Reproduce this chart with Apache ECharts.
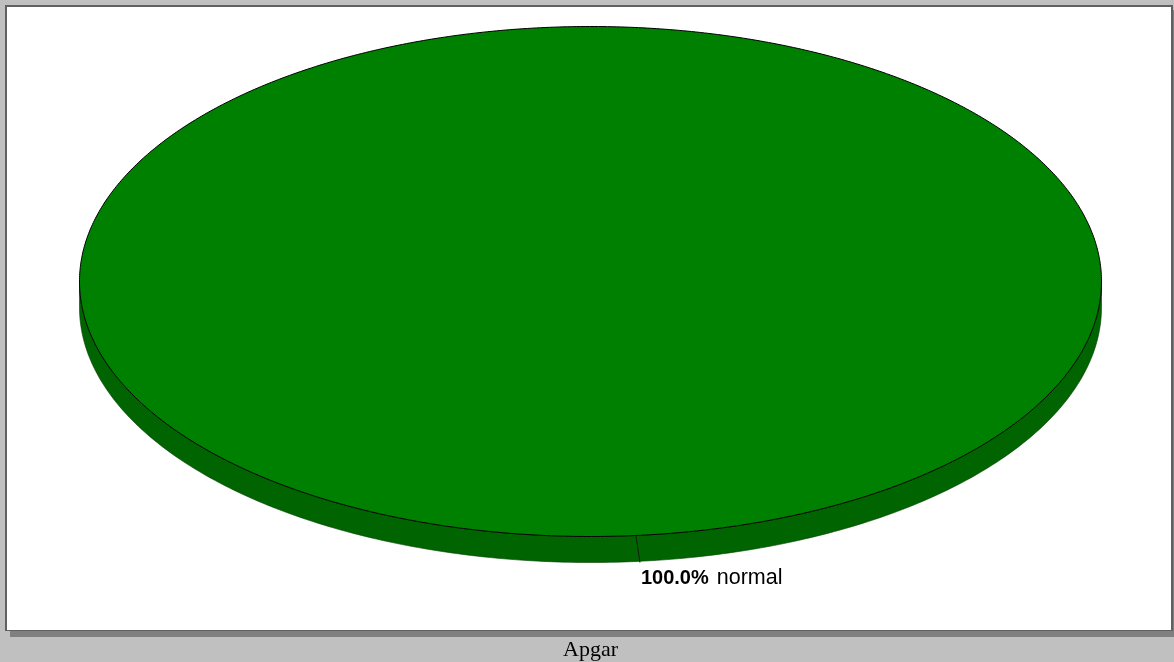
<!DOCTYPE html>
<html><head><meta charset="utf-8">
<script src="https://cdn.jsdelivr.net/npm/echarts@6/dist/echarts.min.js"></script>
<style>html,body{margin:0;padding:0;background:#c0c0c0}#c{width:1174px;height:662px}</style>
</head><body><div id="c"></div>
<script>
// ---- data ----
const categories = ['normal'];
const values = [100];
const titleText = 'Apgar';

// ---- style / layout ----
const topColors = ['#008000'];
const sideColors = ['#006400'];
const CX = 590.5, CY = 281.5, RX = 511, RY = 255, DEPTH = 26;
const START = -95.1 * Math.PI / 180; // screen angle where the first slice starts

const total = values.reduce((a, b) => a + b, 0);
const cum = [];
values.reduce((acc, v, i) => { cum[i] = acc; return acc + v; }, 0);

function ept(t, dz) { return [CX + RX * Math.cos(t), CY + RY * Math.sin(t) + dz]; }
function arcPts(t0, t1, dz, n) {
  const pts = [];
  for (let k = 0; k <= n; k++) pts.push(ept(t0 + (t1 - t0) * k / n, dz));
  return pts;
}

function renderItem(params, api) {
  const i = params.dataIndex;
  const v = api.value(1);
  const a0 = START + 2 * Math.PI * cum[i] / total;
  const a1 = a0 + 2 * Math.PI * v / total;
  const children = [];
  // side wall: visible only on the front half (screen angles 0..PI)
  for (let k = -2; k <= 2; k++) {
    const s = Math.max(a0, 2 * Math.PI * k), e = Math.min(a1, 2 * Math.PI * k + Math.PI);
    if (e > s) {
      const upper = arcPts(s, e, 0, 240);
      const lower = arcPts(e, s, DEPTH, 240);
      children.push({
        type: 'polygon', shape: { points: upper.concat(lower) },
        style: { fill: sideColors[i % sideColors.length], stroke: '#004000', lineWidth: 0.6 }
      });
    }
  }
  // top face
  const full = (a1 - a0) >= 2 * Math.PI - 1e-9;
  let pts = arcPts(a0, a1, 0, 720);
  if (!full) pts = [[CX, CY]].concat(pts);
  children.push({
    type: 'polygon', shape: { points: pts },
    style: { fill: topColors[i % topColors.length], stroke: '#000', lineWidth: 1 }
  });
  // leader line + label at the slice's mid angle
  const mid = (a0 + a1) / 2;
  const p = ept(mid, 0);
  children.push({
    type: 'line', shape: { x1: p[0], y1: p[1], x2: p[0] + 4, y2: p[1] + DEPTH + 1 },
    style: { stroke: '#1a1a1a', lineWidth: 1 }
  });
  const pct = (v / total * 100).toFixed(1) + '%';
  children.push({
    type: 'text', x: p[0] + 5, y: p[1] + 43,
    style: {
      text: '{b|' + pct + '}{n|' + categories[i] + '}',
      verticalAlign: 'middle', align: 'left',
      rich: {
        b: { fontFamily: 'Liberation Sans', fontSize: 20, fontWeight: 'bold', fill: '#000' },
        n: { fontFamily: 'Liberation Sans', fontSize: 21.5, fill: '#000', padding: [0, 0, 0, 8] }
      }
    }
  });
  return { type: 'group', children };
}

const chart = echarts.init(document.getElementById('c'), null, { renderer: 'canvas' });
chart.setOption({
  backgroundColor: '#c0c0c0',
  animation: false,
  title: {
    text: titleText, left: 563, top: 639, padding: 0,
    textStyle: { fontFamily: 'Liberation Serif', fontSize: 22, fontWeight: 'normal', color: '#000' }
  },
  graphic: [
    { type: 'rect', z: 0, silent: true, shape: { x: 10, y: 10, width: 1164, height: 627 }, style: { fill: '#808080' } },
    { type: 'rect', z: 0, silent: true, shape: { x: 5, y: 5, width: 1168, height: 626 }, style: { fill: '#606060' } },
    { type: 'rect', z: 0, silent: true, shape: { x: 7, y: 7, width: 1164, height: 623 }, style: { fill: '#ffffff' } }
  ],
  series: [{
    type: 'custom', coordinateSystem: 'none', silent: true, z: 5,
    data: values.map((v, i) => [i, v]),
    renderItem
  }]
});
</script>
</body></html>
